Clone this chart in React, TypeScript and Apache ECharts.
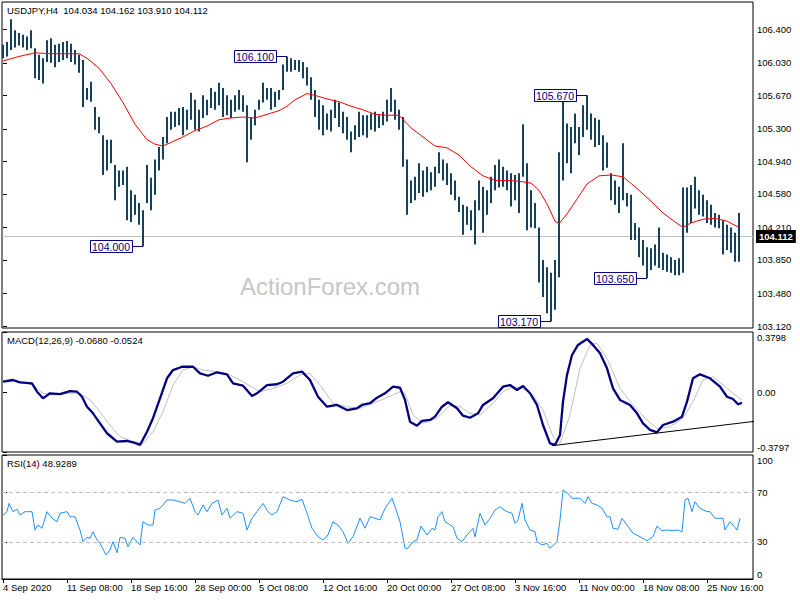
import React, { useEffect, useRef } from "react";
import * as echarts from "echarts";

const FONT = "'Liberation Sans', Arial, sans-serif";

const symbolName = "USDJPY,H4";
const lastOHLC = [104.034, 104.162, 103.91, 104.112];
const macdHeader = [-0.068, -0.0524];
const rsiLast = 48.9289;
const watermark = "ActionForex.com";

// each entry = one bar slot (index k), high / low prices
const highs = [
  106.23, 106.26, 106.51, 106.39, 106.36, 106.34, 106.32, 106.39, 106.19, 106.12,
  106.08, 106.28, 106.30, 106.23, 106.24, 106.26, 106.27, 106.24, 106.17, 106.12,
  106.06, 105.75, 105.82, 105.54, 105.43, 105.23, 105.18, 105.18, 104.90, 104.84,
  104.84, 104.88, 104.62, 104.57, 104.48, 104.40, 104.90, 104.76, 104.96, 105.10,
  105.21, 105.43, 105.49, 105.49, 105.53, 105.54, 105.51, 105.70, 105.62, 105.51,
  105.67, 105.62, 105.75, 105.71, 105.81, 105.75, 105.67, 105.62, 105.67, 105.73,
  105.67, 105.56, 105.42, 105.51, 105.62, 105.81, 105.75, 105.75, 105.71, 105.73,
  106.01, 106.10, 106.08, 106.06, 106.06, 106.04, 105.98, 105.87, 105.73, 105.62,
  105.56, 105.47, 105.51, 105.62, 105.59, 105.49, 105.43, 105.27, 105.34, 105.49,
  105.45, 105.45, 105.47, 105.49, 105.45, 105.49, 105.62, 105.75, 105.62, 105.51,
  105.43, 104.96, 104.73, 104.77, 104.92, 104.84, 104.88, 104.82, 104.88, 105.04,
  104.96, 104.92, 104.81, 104.73, 104.55, 104.46, 104.44, 104.40, 104.51, 104.73,
  104.66, 104.62, 104.77, 104.90, 104.96, 104.88, 104.84, 104.81, 104.79, 104.81,
  105.35, 104.92, 104.62, 104.48, 104.21, 103.85, 103.77, 103.71, 103.85, 105.04,
  105.62, 105.36, 105.32, 105.47, 105.32, 105.56, 105.67, 105.47, 105.42, 105.40,
  105.23, 105.15, 104.81, 104.73, 104.66, 105.14, 104.59, 104.57, 104.26, 104.21,
  104.07, 103.99, 103.98, 104.02, 104.21, 103.93, 103.91, 103.88, 103.85, 103.87,
  104.65, 104.65, 104.68, 104.77, 104.62, 104.57, 104.51, 104.46, 104.37, 104.35,
  104.29, 104.24, 104.21, 104.15, 104.37,
];
const lows = [
  106.08, 106.10, 106.17, 106.20, 106.22, 106.20, 106.17, 106.19, 105.86, 105.84,
  105.80, 106.04, 106.03, 105.98, 106.04, 106.06, 106.08, 106.04, 106.01, 105.92,
  105.54, 105.62, 105.60, 105.29, 105.25, 104.79, 104.84, 104.92, 104.51, 104.66,
  104.68, 104.29, 104.27, 104.35, 104.24, 104.00, 104.48, 104.40, 104.57, 104.84,
  104.96, 105.14, 105.29, 105.32, 105.34, 105.23, 105.29, 105.40, 105.29, 105.27,
  105.42, 105.45, 105.53, 105.51, 105.56, 105.43, 105.45, 105.42, 105.49, 105.51,
  105.49, 104.93, 105.18, 105.34, 105.51, 105.59, 105.62, 105.51, 105.54, 105.62,
  105.73, 105.93, 105.93, 105.95, 105.93, 105.86, 105.78, 105.62, 105.43, 105.29,
  105.23, 105.29, 105.27, 105.42, 105.32, 105.25, 105.18, 105.04, 105.18, 105.21,
  105.23, 105.20, 105.29, 105.27, 105.31, 105.34, 105.38, 105.49, 105.40, 105.29,
  104.88, 104.35, 104.48, 104.51, 104.59, 104.55, 104.60, 104.62, 104.66, 104.81,
  104.73, 104.68, 104.57, 104.51, 104.38, 104.13, 104.24, 104.18, 104.02, 104.40,
  104.15, 104.35, 104.48, 104.62, 104.65, 104.66, 104.62, 104.44, 104.51, 104.37,
  104.77, 104.18, 104.21, 104.20, 103.60, 103.44, 103.26, 103.17, 103.30, 103.66,
  104.73, 104.92, 104.81, 105.14, 105.01, 105.21, 105.29, 105.18, 105.10, 105.12,
  104.84, 104.87, 104.51, 104.46, 104.37, 104.51, 104.44, 104.07, 104.07, 103.88,
  103.79, 103.65, 103.74, 103.79, 103.76, 103.74, 103.72, 103.71, 103.68, 103.68,
  103.71, 104.15, 104.26, 104.42, 104.35, 104.33, 104.26, 104.24, 104.21, 104.20,
  103.91, 103.96, 103.93, 103.83, 103.83,
];

const maPoints = [
  [0, 106.05], [4, 106.1], [8, 106.14], [12, 106.13], [16, 106.13], [19, 106.13],
  [21, 106.08], [24, 105.97], [27, 105.8], [30, 105.59], [33, 105.35], [36, 105.18],
  [38, 105.13], [40, 105.11], [42, 105.15], [45, 105.21], [48, 105.28], [51, 105.33],
  [54, 105.4], [57, 105.42], [60, 105.43], [63, 105.42], [66, 105.46], [69, 105.5],
  [71, 105.55], [73, 105.62], [76, 105.69], [78, 105.67], [81, 105.63], [84, 105.6],
  [87, 105.55], [90, 105.51], [93, 105.46], [96, 105.45], [99, 105.45], [102, 105.31],
  [105, 105.21], [108, 105.11], [111, 105.09], [114, 105.01], [117, 104.88], [120, 104.78],
  [123, 104.73], [126, 104.73], [129, 104.72], [132, 104.7], [134, 104.62], [136, 104.47],
  [138, 104.28], [139, 104.25], [141, 104.36], [143, 104.49], [146, 104.69], [149, 104.78],
  [152, 104.79], [155, 104.77], [158, 104.66], [162, 104.5], [165, 104.37], [168, 104.27],
  [170, 104.21], [172, 104.26], [175, 104.3], [178, 104.31], [181, 104.28], [184, 104.21],
];

const macdMain = [
  [0, 0.065], [2.5, 0.076], [4.25, 0.061], [7.25, 0.055], [8.5, 0.002], [10, -0.04],
  [11.75, -0.008], [14.25, -0.014], [16.75, 0.006], [18.5, 0.002], [19.75, -0.03], [21, -0.093],
  [22.5, -0.135], [24.25, -0.198], [26, -0.261], [28.5, -0.314], [31, -0.31], [32.5, -0.318],
  [34.25, -0.335], [36, -0.251], [37.5, -0.166], [39.25, -0.04], [41, 0.087], [42.5, 0.139],
  [44.75, 0.16], [47.5, 0.16], [49.25, 0.118], [51.25, 0.103], [53.5, 0.125], [56, 0.112],
  [57.5, 0.055], [60, 0.04], [62.25, -0.025], [63.5, -0.008], [66, 0.044], [68.5, 0.049],
  [70, 0.065], [72.5, 0.118], [74.75, 0.129], [76.75, 0.076], [78.75, -0.03], [81, -0.093],
  [83.5, -0.082], [86, -0.114], [88.5, -0.103], [89.75, -0.082], [91.75, -0.071], [93.5, -0.036],
  [95.5, -0.008], [97.5, 0.034], [99.25, 0.027], [100.5, -0.05], [101.75, -0.188], [103.5, -0.213],
  [104.75, -0.183], [106.75, -0.177], [108, -0.156], [109.75, -0.093], [111.25, -0.065], [113.5, -0.103],
  [115, -0.15], [116.75, -0.163], [118.75, -0.135], [120, -0.082], [122.5, -0.04], [125, 0.034],
  [126.75, 0.044], [128.5, 0.013], [130, 0.038], [131.75, -0.008], [133.5, -0.082], [135, -0.209],
  [136.75, -0.325], [138, -0.335], [139.25, -0.272], [140, -0.061], [141, 0.108], [142.25, 0.234],
  [143.75, 0.298], [146, 0.336], [147.5, 0.298], [149.25, 0.245], [151, 0.15], [152.5, 0.023],
  [154.25, -0.05], [156.75, -0.082], [158.5, -0.135], [160, -0.198], [161.75, -0.24], [163.5, -0.255],
  [165, -0.209], [167.5, -0.188], [169.75, -0.156], [171, -0.061], [172.5, 0.087], [174.25, 0.112],
  [176.75, 0.087], [179.25, 0.034], [181, -0.03], [182.5, -0.044], [183.75, -0.078], [184.75, -0.068],
];

const macdSignal = [
  [0, 0.065], [4.25, 0.065], [7.5, 0.044], [10, -0.008], [12.5, -0.019], [16, -0.008],
  [19.25, -0.008], [21.75, -0.05], [24.25, -0.125], [26.75, -0.209], [29.25, -0.283], [32.5, -0.314],
  [35, -0.325], [37.5, -0.251], [40, -0.125], [42.5, 0.044], [45, 0.139], [47.5, 0.16],
  [50, 0.139], [53.5, 0.129], [56.75, 0.108], [60, 0.065], [64.25, 0.002], [67.5, 0.023],
  [71, 0.055], [74.25, 0.108], [76.75, 0.118], [79.25, 0.044], [82.5, -0.071], [86, -0.093],
  [89.25, -0.103], [92.5, -0.071], [96, -0.036], [99.25, 0.002], [100.5, -0.01], [102.5, -0.145],
  [105, -0.198], [108.5, -0.166], [111.75, -0.082], [114.25, -0.093], [116.75, -0.135], [119.25, -0.145],
  [122.5, -0.071], [125, 0.002], [127.5, 0.034], [130, 0.023], [132.5, -0.019], [135, -0.114],
  [137.5, -0.283], [139.25, -0.325], [141.75, -0.145], [144.25, 0.15], [146.75, 0.298], [148.5, 0.308],
  [151, 0.213], [154.25, 0.023], [157.5, -0.082], [161, -0.177], [163.5, -0.23], [166.75, -0.22],
  [170, -0.166], [172.5, -0.061], [175, 0.076], [177.5, 0.097], [180, 0.044], [182.5, -0.008],
  [184.75, -0.052],
];

const macdTrend = [[137.2, -0.34], [187.8, -0.186]];

const rsiPoints = [
  [0, 51.6], [1, 54.3], [1.5, 61.0], [2.5, 54.3], [3.5, 56.2], [4.25, 51.6], [5.5, 54.3], [7.25, 54.3],
  [8, 39.5], [8.75, 43.5], [9.75, 40.9], [11, 54.3], [12.25, 49.0], [13.5, 46.2], [14.25, 53.0], [16, 54.3],
  [16.75, 50.2], [18, 50.2], [19.25, 39.5], [20, 30.1], [21, 33.6], [21.75, 32.8], [22.5, 38.1], [23.5, 31.5],
  [24.25, 28.8], [25.75, 19.4], [26.75, 23.4], [27.5, 30.1], [28.5, 21.2], [29.25, 33.6], [30.5, 32.8], [31.25, 26.0],
  [32.5, 33.6], [34.25, 27.4], [35, 46.2], [36.25, 43.5], [37.5, 43.5], [38, 55.6], [39.25, 57.0], [40, 59.7],
  [41, 63.7], [42.5, 63.7], [44.25, 62.3], [45.5, 61.0], [46.75, 65.1], [48, 54.3], [48.75, 51.6], [50, 59.7],
  [51, 54.3], [52.25, 61.0], [53.75, 63.7], [54.75, 51.6], [56, 57.0], [56.75, 49.0], [58.5, 54.3], [60, 53.0],
  [61, 39.5], [62.25, 49.0], [63.5, 54.3], [65, 61.0], [66.25, 54.3], [67.25, 51.6], [68.5, 54.3], [70, 66.4],
  [71.75, 63.7], [73.5, 62.3], [74.75, 64.3], [76, 53.0], [77.25, 40.9], [78.75, 34.1], [80, 31.5], [81.25, 35.5],
  [82.5, 46.2], [83.75, 43.5], [85, 38.1], [86.25, 28.8], [87.5, 34.1], [89.25, 49.0], [90.5, 40.9], [91.75, 50.2],
  [93, 49.0], [94.25, 47.6], [95.5, 57.0], [97.25, 65.1], [98, 58.3], [99.25, 46.2], [100.5, 24.8], [101.25, 24.8],
  [102.5, 30.1], [103.5, 31.5], [104.5, 42.7], [106, 35.5], [107.25, 40.9], [108, 39.5], [108.75, 50.2], [109.75, 54.3],
  [110.5, 46.2], [112.5, 42.2], [113.5, 32.8], [114.75, 30.1], [116, 35.5], [117.5, 40.9], [118, 34.1], [119.25, 53.0],
  [120.5, 43.5], [121.75, 49.0], [123, 55.6], [124.25, 58.3], [125, 56.2], [126, 54.3], [127.25, 53.0], [128, 44.9],
  [128.75, 47.6], [129.75, 61.0], [130.5, 47.6], [131.75, 39.5], [133, 38.1], [133.5, 30.1], [134.75, 27.4], [136, 28.8],
  [136.75, 24.8], [138.5, 30.1], [139.25, 47.6], [140, 71.8], [141.25, 69.1], [142.25, 65.1], [144.25, 65.1], [145.5, 61.0],
  [146.25, 66.4], [147.25, 61.0], [148.5, 59.7], [149.75, 57.0], [151, 50.2], [151.75, 50.2], [152.5, 40.9], [153.75, 40.1],
  [154.75, 49.0], [156, 43.5], [157.5, 36.9], [159.25, 34.1], [161, 30.9], [162.5, 34.1], [163.5, 42.7], [164.75, 39.0],
  [166, 39.5], [167.25, 39.0], [168.75, 39.5], [169.75, 38.1], [170.5, 63.7], [171.25, 65.1], [172.25, 54.3], [173, 62.3],
  [174.25, 57.0], [176, 54.3], [176.75, 54.3], [178, 49.0], [180, 49.0], [180.5, 39.5], [181.75, 46.2], [182.5, 43.5],
  [183.5, 39.5], [184.25, 48.93],
];

const priceTicks = [103.12, 103.48, 103.85, 104.21, 104.58, 104.94, 105.3, 105.67, 106.03, 106.4];
const macdTicks = [-0.3797, 0, 0.3798];
const macdTickLabels = ["-0.3797", "0.00", "0.3798"];
const rsiTicks = [0, 30, 70, 100];
const rsiLevels = [70, 30];
const timeTickIdx = [0, 16, 32, 48, 64, 80, 96, 112, 128, 144, 160, 176];
const timeLabels = [
  "4 Sep 2020", "11 Sep 08:00", "18 Sep 16:00", "28 Sep 00:00", "5 Oct 08:00", "12 Oct 16:00",
  "20 Oct 00:00", "27 Oct 08:00", "3 Nov 16:00", "11 Nov 00:00", "18 Nov 08:00", "25 Nov 16:00",
];
const annoIdx = [35, 71, 137, 146, 161];
const annoPrice = [104.0, 106.1, 103.17, 105.67, 103.65];

const X_MIN = -0.25;
const X_MAX = 187.5;

export default function App() {
  const ref = useRef<HTMLDivElement>(null);
  useEffect(() => {
    if (!ref.current) return;
    const chart = echarts.init(ref.current, null, { renderer: "svg" });
    const gridBase = { left: 2, width: 751, show: true, borderColor: "#000", borderWidth: 1, backgroundColor: "#fff" };
    const hiddenX = (i: number) => ({ type: "value", gridIndex: i, min: X_MIN, max: X_MAX, show: false });
    const yCommon = {
      type: "value",
      position: "right",
      axisLine: { show: false },
      splitLine: { show: false },
    };
    const tickStyle = { show: true, length: 4, lineStyle: { color: "#000", width: 1 } };
    const labelStyle = { color: "#000", fontSize: 9.5, fontFamily: FONT, margin: 4 };

    const option: any = {
      animation: false,
      backgroundColor: "#fff",
      textStyle: { fontFamily: FONT },
      grid: [
        { ...gridBase, top: 2, height: 326 },
        { ...gridBase, top: 332, height: 120 },
        { ...gridBase, top: 455, height: 124 },
      ],
      xAxis: [
        hiddenX(0),
        hiddenX(1),
        {
          type: "value",
          gridIndex: 2,
          min: X_MIN,
          max: X_MAX,
          axisLine: { show: true, lineStyle: { color: "#000", width: 1 } },
          splitLine: { show: false },
          axisTick: { ...tickStyle, customValues: timeTickIdx },
          axisLabel: {
            ...labelStyle,
            margin: 3,
            align: "left",
            customValues: timeTickIdx,
            formatter: (v: number) => timeLabels[timeTickIdx.indexOf(v)] ?? "",
          },
        },
      ],
      yAxis: [
        {
          ...yCommon,
          gridIndex: 0,
          min: 103.098,
          max: 106.702,
          axisTick: { ...tickStyle, customValues: priceTicks },
          axisLabel: { ...labelStyle, customValues: priceTicks, formatter: (v: number) => v.toFixed(3) },
        },
        {
          ...yCommon,
          gridIndex: 1,
          min: -0.3797,
          max: 0.3798,
          axisTick: { ...tickStyle, customValues: macdTicks },
          axisLabel: {
            ...labelStyle,
            customValues: macdTicks,
            verticalAlignMinLabel: "bottom",
            verticalAlignMaxLabel: "top",
            formatter: (v: number) => macdTickLabels[macdTicks.indexOf(v)] ?? "",
          },
        },
        {
          ...yCommon,
          gridIndex: 2,
          min: 0,
          max: 100,
          axisTick: { ...tickStyle, customValues: rsiTicks },
          axisLabel: {
            ...labelStyle,
            customValues: rsiTicks,
            verticalAlignMinLabel: "bottom",
            verticalAlignMaxLabel: "top",
            formatter: (v: number) => String(v),
          },
        },
      ],
      graphic: [
        {
          type: "text",
          left: 240,
          top: 274,
          z: 0,
          silent: true,
          style: { text: watermark, fontSize: 24, fontFamily: FONT, fill: "#c6c6c6" },
        },
        {
          type: "text",
          left: 7,
          top: 5,
          z: 10,
          style: {
            text: `${symbolName}  ${lastOHLC.map((v) => v.toFixed(3)).join(" ")}`,
            fontSize: 9.5,
            fontFamily: FONT,
            fill: "#000",
          },
        },
        {
          type: "text",
          left: 7,
          top: 335,
          z: 10,
          style: {
            text: `MACD(12,26,9) ${macdHeader.map((v) => v.toFixed(4)).join(" ")}`,
            fontSize: 9.5,
            fontFamily: FONT,
            fill: "#000",
          },
        },
        {
          type: "text",
          left: 7,
          top: 458,
          z: 10,
          style: { text: `RSI(14) ${rsiLast.toFixed(4)}`, fontSize: 9.5, fontFamily: FONT, fill: "#000" },
        },
      ],
      series: [
        {
          type: "line",
          name: "MA",
          xAxisIndex: 0,
          yAxisIndex: 0,
          data: maPoints,
          showSymbol: false,
          symbol: "none",
          z: 4,
          lineStyle: { color: "#ff0000", width: 1 },
          markLine: {
            silent: true,
            symbol: "none",
            z: 1,
            lineStyle: { color: "#c0c0c0", type: "solid", width: 1 },
            label: {
              show: true,
              position: "end",
              distance: 3,
              formatter: () => lastOHLC[3].toFixed(3),
              color: "#fff",
              backgroundColor: "#000",
              padding: [2, 3, 1, 3],
              fontSize: 9.5,
              fontFamily: FONT,
              fontWeight: "bold",
            },
            data: [{ yAxis: lastOHLC[3] }],
          },
        },
        {
          type: "custom",
          name: "bars",
          xAxisIndex: 0,
          yAxisIndex: 0,
          z: 3,
          data: highs.map((h, i) => [i, h, lows[i]]),
          encode: { x: 0, y: [1, 2] },
          renderItem: (params: any, api: any) => {
            const k = api.value(0);
            const hi = api.coord([k, api.value(1)]);
            const lo = api.coord([k, api.value(2)]);
            return {
              type: "rect",
              shape: { x: hi[0] - 1, y: hi[1], width: 2, height: Math.max(1, lo[1] - hi[1]) },
              style: { fill: "#12425e" },
            };
          },
        },
        {
          type: "custom",
          name: "annotations",
          xAxisIndex: 0,
          yAxisIndex: 0,
          z: 6,
          data: annoIdx.map((k, i) => [k, annoPrice[i]]),
          renderItem: (params: any, api: any) => {
            const p = api.coord([api.value(0), api.value(1)]);
            const txt = annoPrice[params.dataIndex].toFixed(3);
            const right = Math.round(p[0]) - 11;
            const cy = Math.round(p[1]) + 0.5;
            return {
              type: "group",
              children: [
                {
                  type: "line",
                  shape: { x1: right, y1: cy, x2: p[0], y2: cy },
                  style: { stroke: "#000080", lineWidth: 1 },
                },
                {
                  type: "rect",
                  shape: { x: right - 42 + 0.5, y: cy - 6, width: 42, height: 12 },
                  style: { fill: "#fff", stroke: "#000080", lineWidth: 1 },
                },
                {
                  type: "text",
                  x: right - 21,
                  y: cy + 0.5,
                  style: {
                    text: txt,
                    fill: "#000080",
                    fontSize: 10.5,
                    fontFamily: FONT,
                    align: "center",
                    verticalAlign: "middle",
                  },
                },
              ],
            };
          },
        },
        {
          type: "line",
          name: "Signal",
          xAxisIndex: 1,
          yAxisIndex: 1,
          data: macdSignal,
          symbol: "none",
          z: 3,
          lineStyle: { color: "#c0c0c0", width: 1 },
        },
        {
          type: "line",
          name: "MACD",
          xAxisIndex: 1,
          yAxisIndex: 1,
          data: macdMain,
          symbol: "none",
          z: 4,
          lineStyle: { color: "#000080", width: 2.3 },
        },
        {
          type: "line",
          name: "Trend",
          xAxisIndex: 1,
          yAxisIndex: 1,
          data: macdTrend,
          symbol: "none",
          z: 5,
          lineStyle: { color: "#000", width: 1 },
        },
        {
          type: "line",
          name: "RSI",
          xAxisIndex: 2,
          yAxisIndex: 2,
          data: rsiPoints,
          symbol: "none",
          z: 4,
          lineStyle: { color: "#1e90ff", width: 1 },
          markLine: {
            silent: true,
            symbol: "none",
            label: { show: false },
            lineStyle: { color: "#c0c0c0", type: [4, 3], width: 1 },
            data: rsiLevels.map((v) => ({ yAxis: v })),
          },
        },
      ],
    };
    chart.setOption(option);
    return () => chart.dispose();
  }, []);
  return (
    <div
      ref={ref}
      style={{ position: "fixed", left: 0, top: 0, width: 800, height: 600, background: "#fff" }}
    />
  );
}
